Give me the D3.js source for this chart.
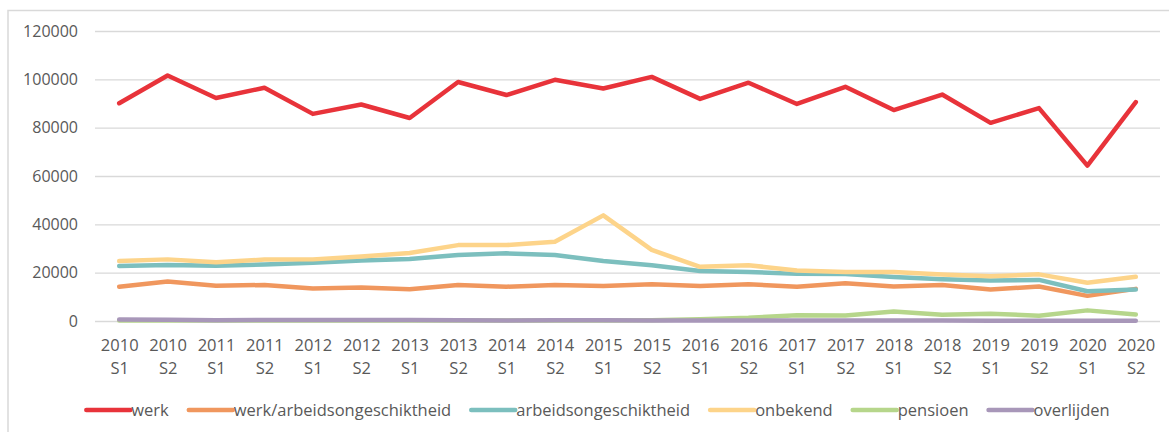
<!DOCTYPE html>
<html>
<head>
<meta charset="utf-8">
<script src="https://cdn.jsdelivr.net/npm/d3@7"></script>
<style>
  html, body { margin: 0; padding: 0; background: #fff; }
  svg { display: block; }
  text { font-family: "Open Sans", sans-serif; fill: #595959; }
</style>
</head>
<body>
<svg id="chart" width="1169" height="432"></svg>
<script>
const categories = ["2010 S1","2010 S2","2011 S1","2011 S2","2012 S1","2012 S2","2013 S1","2013 S2","2014 S1","2014 S2","2015 S1","2015 S2","2016 S1","2016 S2","2017 S1","2017 S2","2018 S1","2018 S2","2019 S1","2019 S2","2020 S1","2020 S2"];
const werk = [90100,101600,92300,96500,85700,89600,84000,98900,93500,99800,96200,101000,91900,98600,89800,96900,87300,93700,82000,88100,64300,90600];
const werkArbeid = [14200,16300,14600,14900,13400,13900,13100,14900,14200,14900,14500,15200,14500,15200,14200,15600,14300,14900,13000,14300,10400,13300];
const arbeid = [22800,23200,22900,23400,24100,25000,25700,27300,28000,27300,24800,23100,20700,20300,19500,19400,18200,17300,16800,17000,12300,13000];
const onbekend = [24800,25500,24300,25400,25500,26700,28100,31400,31400,32800,43700,29400,22400,23100,20900,20300,20300,19200,18500,19300,15800,18300];
const pensioen = [200,200,200,200,200,200,200,200,200,200,200,300,700,1300,2400,2300,3900,2600,3000,2200,4400,2700];
const overlijden = [600,500,300,400,400,400,400,300,200,300,300,200,200,200,200,200,200,200,100,100,100,100];
const seriesNames = ["werk","werk/arbeidsongeschiktheid","arbeidsongeschiktheid","onbekend","pensioen","overlijden"];
const seriesColors = ["#e8333a","#f0975e","#7cbfbe","#fdd48a","#b6d68b","#a897b9"];
const yTicks = [0,20000,40000,60000,80000,100000,120000];

const seriesData = [werk, werkArbeid, arbeid, onbekend, pensioen, overlijden];

const svg = d3.select("#chart");

// outer chart frame (partially cut off)
svg.append("rect")
  .attr("x", 8).attr("y", 10.5)
  .attr("width", 1300).attr("height", 600)
  .attr("fill", "none").attr("stroke", "#d9d9d9").attr("stroke-width", 1.5);

const plotLeft = 95, plotRight = 1160, plotTop = 31, plotBottom = 321;

const x = d3.scalePoint().domain(categories).range([plotLeft, plotRight]).padding(0.5);
const y = d3.scaleLinear().domain([0, 120000]).range([plotBottom, plotTop]);

// gridlines + y labels
const yAxis = d3.axisLeft(y).tickValues(yTicks).tickSize(-(plotRight - plotLeft)).tickFormat(d3.format("d")).tickPadding(17);
const gy = svg.append("g").attr("transform", `translate(${plotLeft},0)`).call(yAxis);
gy.select(".domain").remove();
gy.selectAll(".tick line").attr("stroke", "#d9d9d9").attr("stroke-width", 1.3);
gy.selectAll(".tick text").style("font-size", "16px").attr("fill", "#595959").style("font-family", "'Open Sans', sans-serif");

// x labels (two lines)
const xAxis = d3.axisBottom(x).tickSize(0).tickPadding(0).tickFormat("");
const gx = svg.append("g").attr("transform", `translate(0,${plotBottom})`).call(xAxis);
gx.select(".domain").remove();
gx.selectAll(".tick").each(function(d) {
  const parts = d.split(" ");
  const t = d3.select(this).append("text")
    .attr("text-anchor", "middle")
    .style("font-size", "16.5px")
    .attr("fill", "#595959");
  t.append("tspan").attr("x", 0).attr("y", 30).text(parts[0]);
  t.append("tspan").attr("x", 0).attr("y", 53).text(parts[1]);
});

// lines
const line = d3.line().x((d, i) => x(categories[i])).y(d => y(d));
seriesData.forEach((s, k) => {
  svg.append("path")
    .datum(s)
    .attr("d", line)
    .attr("fill", "none")
    .attr("stroke", seriesColors[k])
    .attr("stroke-width", 4.5)
    .attr("stroke-linejoin", "round")
    .attr("stroke-linecap", "round");
});

// legend
const legend = svg.append("g");
const swatchW = 44, gapAfterSwatch = 1, itemGap = 20, legendY = 410;
const items = seriesNames.map((name, k) => {
  const g = legend.append("g");
  g.append("line").attr("x1", 0).attr("x2", swatchW).attr("y1", 0).attr("y2", 0)
    .attr("stroke", seriesColors[k]).attr("stroke-width", 4.5).attr("stroke-linecap", "round");
  const t = g.append("text").attr("x", swatchW + gapAfterSwatch).attr("y", 0).attr("dy", "0.35em")
    .style("font-size", "16.5px").attr("fill", "#595959").text(name);
  return {g, w: swatchW + gapAfterSwatch + t.node().getComputedTextLength()};
});
const total = d3.sum(items, d => d.w) + itemGap * (items.length - 1);
let cx = 598 - total / 2;
items.forEach(it => {
  it.g.attr("transform", `translate(${cx},${legendY})`);
  cx += it.w + itemGap;
});
</script>
</body>
</html>
